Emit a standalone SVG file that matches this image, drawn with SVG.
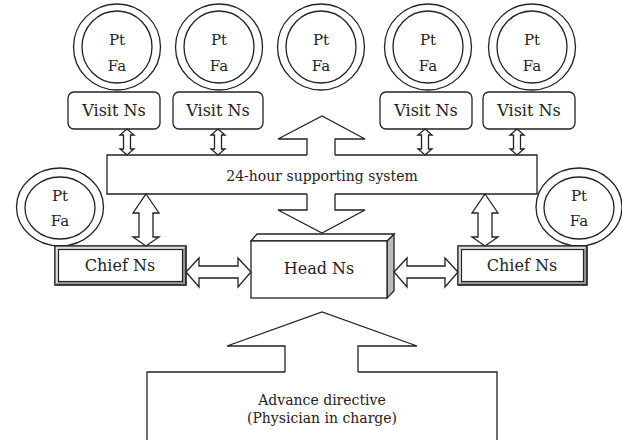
<svg xmlns="http://www.w3.org/2000/svg" width="622" height="440" viewBox="0 0 622 440">
<style>
.s{fill:#fff;stroke:#222;stroke-width:1.3}
.l{fill:none;stroke:#222;stroke-width:1.3}
.t{font-family:"DejaVu Serif","Liberation Serif",serif;fill:#222;text-anchor:middle}
.big{font-size:16px}
.sm{font-size:14px}
.pf{font-size:15px}
</style>
<defs>
<g id="pf">
<ellipse class="s" cx="0" cy="0" rx="43.5" ry="43"/>
<ellipse class="s" cx="0" cy="0" rx="35" ry="36"/>
</g>
</defs>
<g id="pf1"><use href="#pf" x="117" y="47"/><text class="t pf" x="117" y="45">Pt</text><text class="t pf" x="117" y="71">Fa</text></g>
<g id="pf2"><use href="#pf" x="219" y="47"/><text class="t pf" x="219" y="45">Pt</text><text class="t pf" x="219" y="71">Fa</text></g>
<g id="pf3"><use href="#pf" x="321" y="47"/><text class="t pf" x="321" y="45">Pt</text><text class="t pf" x="321" y="71">Fa</text></g>
<g id="pf4"><use href="#pf" x="428" y="47"/><text class="t pf" x="428" y="45">Pt</text><text class="t pf" x="428" y="71">Fa</text></g>
<g id="pf5"><use href="#pf" x="532" y="47"/><text class="t pf" x="532" y="45">Pt</text><text class="t pf" x="532" y="71">Fa</text></g>
<g id="pf6"><ellipse class="s" cx="60" cy="207" rx="43.5" ry="39"/><ellipse class="s" cx="60" cy="208" rx="35" ry="31"/><text class="t pf" x="60" y="201">Pt</text><text class="t pf" x="60" y="226">Fa</text></g>
<g id="pf7"><ellipse class="s" cx="579" cy="207" rx="43" ry="39"/><ellipse class="s" cx="579" cy="208" rx="35" ry="31"/><text class="t pf" x="579" y="201">Pt</text><text class="t pf" x="579" y="226">Fa</text></g>

<g id="vn1"><rect class="s" x="68" y="92" width="92" height="37" rx="6"/><text class="t big" x="114" y="116">Visit Ns</text></g>
<g id="vn2"><rect class="s" x="173" y="92" width="90" height="37" rx="6"/><text class="t big" x="218" y="116">Visit Ns</text></g>
<g id="vn3"><rect class="s" x="380" y="92" width="92" height="37" rx="6"/><text class="t big" x="426" y="116">Visit Ns</text></g>
<g id="vn4"><rect class="s" x="483" y="92" width="92" height="37" rx="6"/><text class="t big" x="529" y="116">Visit Ns</text></g>

<g id="system">
<path class="l" d="M307,155 H107 V194 H307 M335,194 H537 V155 H335"/>
<text class="t sm" x="322" y="181">24-hour supporting system</text>
</g>

<g id="head">
<path d="M387,241 L394,234 V291 L387,298 Z" fill="#bbb" stroke="#222" stroke-width="1.3"/>
<path class="s" d="M251,241 L257,234 H394 L387,241 Z"/>
<rect class="s" x="251" y="241" width="136" height="57"/>
<text class="t big" x="319" y="274">Head Ns</text>
</g>

<g id="chief1">
<rect x="55" y="246" width="131" height="39" fill="#999" stroke="#222" stroke-width="1.2"/>
<path d="M55,246 H186 L183,249 H58 V282 L55,285 Z" fill="#ddd"/>
<rect x="55" y="246" width="131" height="39" fill="none" stroke="#222" stroke-width="1.2"/>
<rect x="58.5" y="249.5" width="124" height="32" fill="#fff" stroke="#222" stroke-width="1.2"/>
<text class="t big" x="120" y="271">Chief Ns</text>
</g>
<g id="chief2">
<rect x="458" y="246" width="129" height="39" fill="#999" stroke="#222" stroke-width="1.2"/>
<path d="M458,246 H587 L584,249 H461 V282 L458,285 Z" fill="#ddd"/>
<rect x="458" y="246" width="129" height="39" fill="none" stroke="#222" stroke-width="1.2"/>
<rect x="461.5" y="249.5" width="122" height="32" fill="#fff" stroke="#222" stroke-width="1.2"/>
<text class="t big" x="522" y="271">Chief Ns</text>
</g>

<g id="advance">
<path class="l" d="M285,372 H147 V445 M497,445 V372 H358"/>
<text class="t sm" x="322" y="405">Advance directive</text>
<text class="t sm" x="322" y="423">(Physician in charge)</text>
</g>

<g id="connectors">
<path class="s" d="M127,129 L134,135 H130.5 V149 H134 L127,155 L120,149 H123.5 V135 H120 Z"/>
<path class="s" d="M218,129 L225,135 H221.5 V149 H225 L218,155 L211,149 H214.5 V135 H211 Z"/>
<path class="s" d="M425,129 L432,135 H428.5 V149 H432 L425,155 L418,149 H421.5 V135 H418 Z"/>
<path class="s" d="M517,129 L524,135 H520.5 V149 H524 L517,155 L510,149 H513.5 V135 H510 Z"/>
<path class="l" d="M307,155 V139 H278 L322,116 L365,139 H335 V155"/>
<path class="l" d="M307,194 V210 H278 L322,233 L365,210 H335 V194"/>
<path class="s" d="M146,194 L159,213 H153 V237 H159 L146,246 L133,237 H139 V213 H133 Z"/>
<path class="s" d="M485,194 L498,213 H492 V237 H498 L485,246 L472,237 H478 V213 H472 Z"/>
<path class="s" d="M186,272 L199,258 V266 H238 V258 L251,272 L238,287 V278 H199 V287 Z"/>
<path class="s" d="M394,272 L407,258 V266 H445 V258 L458,272 L445,287 V278 H407 V287 Z"/>
<path class="l" d="M285,372 V346 H227 L322,312 L417,346 H358 V372"/>
</g>
</svg>
